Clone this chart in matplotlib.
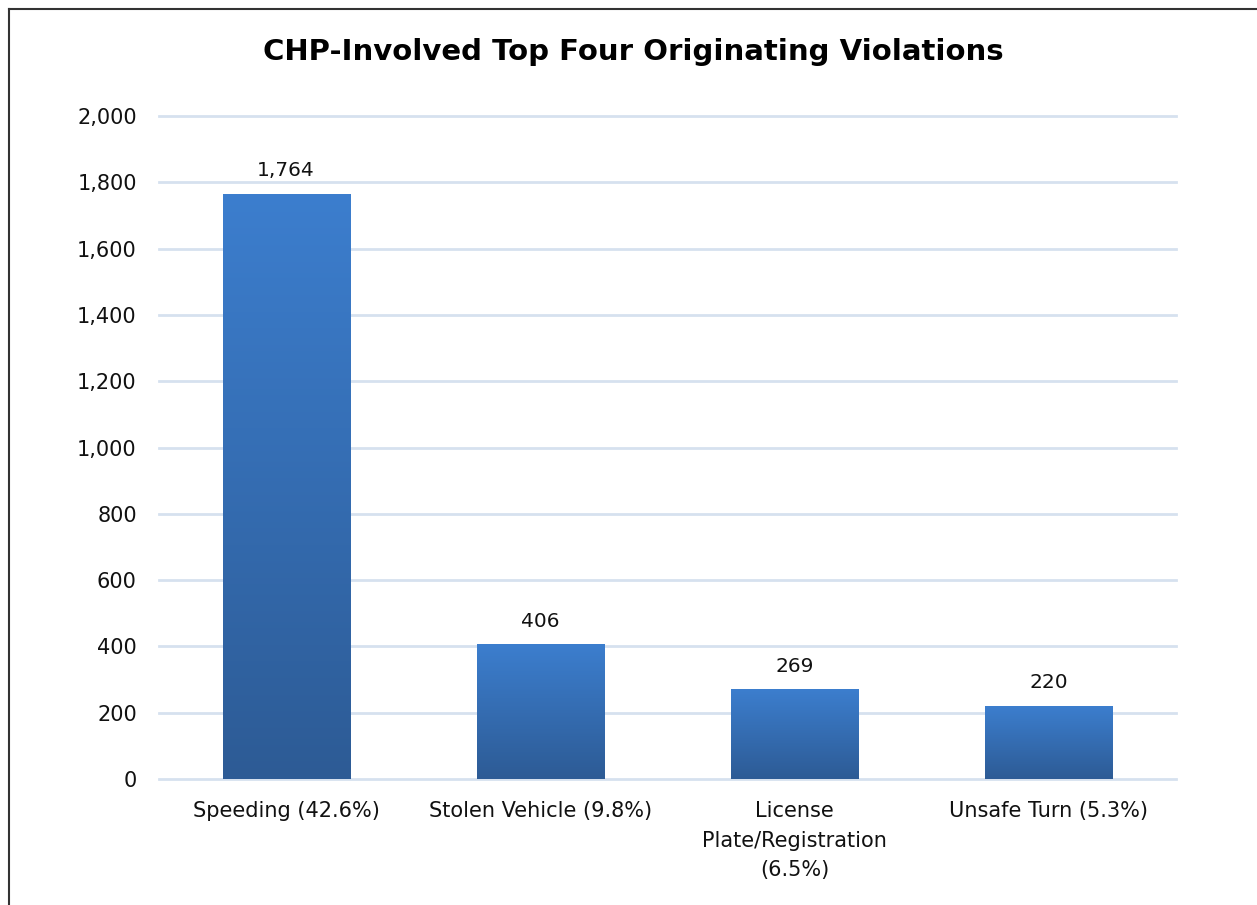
import matplotlib.pyplot as plt
from matplotlib.lines import Line2D
import numpy as np

categories = ["Speeding (42.6%)", "Stolen Vehicle (9.8%)",
              "License\nPlate/Registration\n(6.5%)", "Unsafe Turn (5.3%)"]
counts = [1764, 406, 269, 220]
y_ticks = [0, 200, 400, 600, 800, 1000, 1200, 1400, 1600, 1800, 2000]
title = "CHP-Involved Top Four Originating Violations"

top_color = np.array([0x3C, 0x7E, 0xCE]) / 255
bottom_color = np.array([0x2D, 0x5B, 0x95]) / 255
grid_color = "#D6E1EF"

plt.rcParams['font.family'] = ['DejaVu Sans']

fig = plt.figure(figsize=(12.57, 9.05), dpi=100)
ax = fig.add_axes([0.1265, 0.1392, 0.8091, 0.7326])

x = np.arange(len(categories))
bars = ax.bar(x, counts, width=0.5, color=top_color, zorder=2)

# vertical gradient on each bar
grad = np.linspace(0, 1, 256)[:, None]
cols = top_color[None, None, :] * (1 - grad[..., None]) + bottom_color[None, None, :] * grad[..., None]
for b in bars:
    ax.imshow(cols, extent=(b.get_x(), b.get_x() + b.get_width(), 0, b.get_height()),
              aspect='auto', origin='upper', zorder=3, interpolation='bilinear')

for xi, v in zip(x, counts):
    ax.annotate(f"{v:,}", (xi, v), xytext=(0, 10), textcoords="offset points",
                ha="center", va="bottom", fontsize=14.5, color="#111111")

ax.set_xlim(-0.5, len(categories) - 0.5)
ax.set_ylim(0, 2000)
ax.set_yticks(y_ticks)
ax.set_yticklabels([f"{t:,}" for t in y_ticks])
ax.set_xticks(x)
ax.set_xticklabels(categories, linespacing=1.6)
ax.tick_params(axis="y", length=0, pad=16, labelsize=15, labelcolor="#111111")
ax.tick_params(axis="x", length=0, pad=16, labelsize=15, labelcolor="#111111")
ax.yaxis.grid(True, color=grid_color, linewidth=2, zorder=0)
ax.set_axisbelow(True)
for g in ax.get_ygridlines():
    g.set_clip_on(False)
for s in ax.spines.values():
    s.set_visible(False)

fig.text(0.5035, 0.942, title, ha="center", va="center", fontsize=21,
         fontweight="bold", color="#000000")

# outer chart frame (only top and left edges visible in crop)
fig.add_artist(Line2D([0.0068, 0.0068], [0, 0.990], color="#333333", linewidth=1.5))
fig.add_artist(Line2D([0.0068, 1.0], [0.990, 0.990], color="#333333", linewidth=1.5))

fig.savefig("out.png", dpi=100)
